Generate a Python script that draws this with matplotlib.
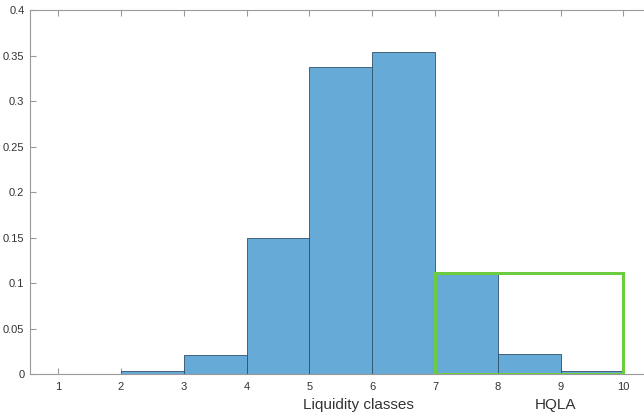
import matplotlib
matplotlib.use("Agg")
import matplotlib.pyplot as plt
from matplotlib.patches import Rectangle

bin_edges = [2, 3, 4, 5, 6, 7, 8, 9, 10]
probabilities = [0.003, 0.021, 0.149, 0.337, 0.354, 0.111, 0.022, 0.003]
hqla_range = (7, 10)
hqla_height = 0.111
xticks = [1, 2, 3, 4, 5, 6, 7, 8, 9, 10]
yticks = [0, 0.05, 0.1, 0.15, 0.2, 0.25, 0.3, 0.35, 0.4]
ytick_labels = ["0", "0.05", "0.1", "0.15", "0.2", "0.25", "0.3", "0.35", "0.4"]

plt.rcParams['font.family'] = ['Liberation Sans', 'DejaVu Sans']

fig = plt.figure(figsize=(6.44, 4.15), dpi=100)
ax = fig.add_axes([30/644, 41/415, 631/644, 364/415])

lefts = bin_edges[:-1]
widths = [b - a for a, b in zip(bin_edges[:-1], bin_edges[1:])]
ax.bar(lefts, probabilities, width=widths, align='edge',
       color='#66aad7', edgecolor='#2f4f6b', linewidth=0.6, zorder=2)

ax.add_patch(Rectangle((hqla_range[0], 0), hqla_range[1] - hqla_range[0], hqla_height,
                       fill=False, edgecolor='#6ccb3f', linewidth=2.2, zorder=3))

ax.set_xlim(0.55, 10.6)
ax.set_ylim(0, 0.4)
ax.set_xticks(xticks)
ax.set_yticks(yticks)
ax.set_yticklabels(ytick_labels)

for s in ax.spines.values():
    s.set_color('#9a9a9a')
    s.set_linewidth(0.8)
ax.tick_params(direction='in', length=4, width=0.8, color='#9a9a9a',
               labelsize=8, labelcolor='#333333', top=True, right=True)
ax.tick_params(axis='x', pad=6)
ax.tick_params(axis='y', pad=4)

fig.text(358/644, 1 - 405/415, "Liquidity classes", ha='center', va='center',
         fontsize=11, color='#333333')
fig.text(555/644, 1 - 405/415, "HQLA", ha='center', va='center',
         fontsize=11, color='#333333')

fig.savefig("out.png", dpi=100)
